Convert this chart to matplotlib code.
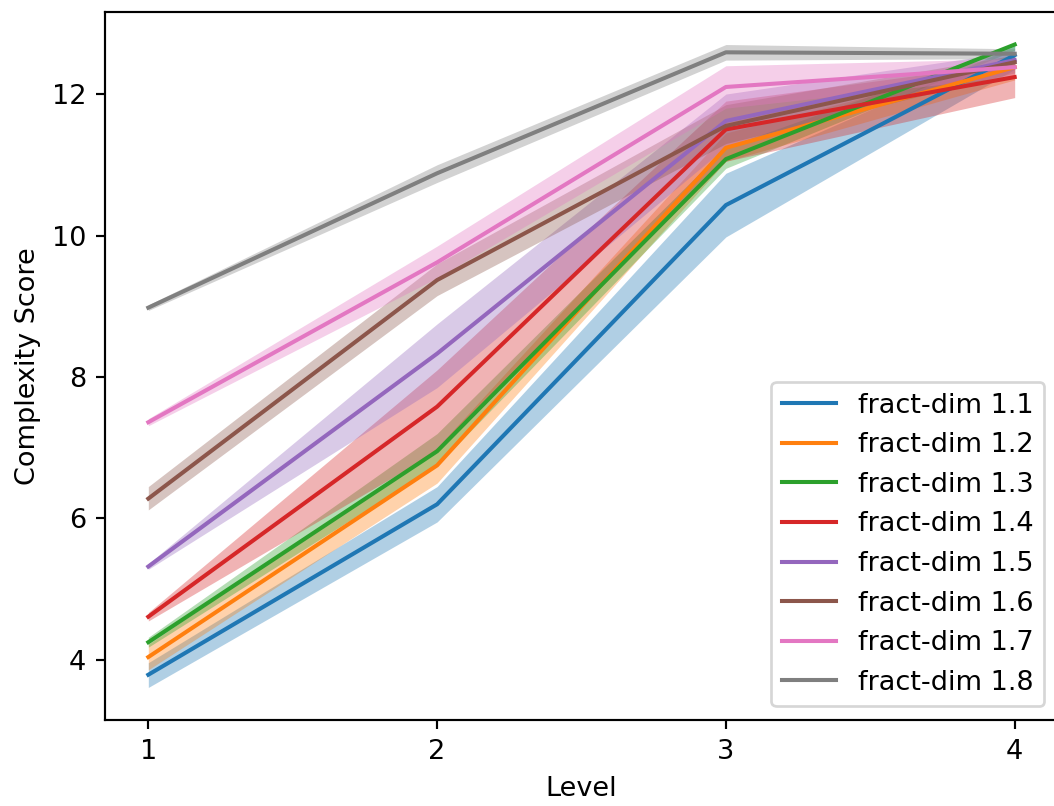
import numpy as np
import matplotlib
matplotlib.use("Agg")
from matplotlib import pyplot as plt

levels = [1, 2, 3, 4]
names = ["fract-dim 1.1", "fract-dim 1.2", "fract-dim 1.3", "fract-dim 1.4",
         "fract-dim 1.5", "fract-dim 1.6", "fract-dim 1.7", "fract-dim 1.8"]

# mean score per level
mean_11 = [3.79, 6.20, 10.43, 12.55]
mean_12 = [4.04, 6.75, 11.24, 12.38]
mean_13 = [4.25, 6.95, 11.08, 12.70]
mean_14 = [4.61, 7.58, 11.50, 12.24]
mean_15 = [5.32, 8.33, 11.62, 12.48]
mean_16 = [6.28, 9.37, 11.55, 12.45]
mean_17 = [7.36, 9.62, 12.10, 12.38]
mean_18 = [8.98, 10.88, 12.59, 12.57]

# confidence band, lower / upper
low_11 = [3.61, 5.95, 9.98, 12.35]
high_11 = [3.96, 6.45, 10.88, 12.68]
low_12 = [3.86, 6.50, 11.05, 12.20]
high_12 = [4.22, 7.00, 11.45, 12.50]
low_13 = [4.18, 6.75, 10.95, 12.62]
high_13 = [4.32, 7.20, 11.25, 12.70]
low_14 = [4.55, 6.95, 11.05, 11.95]
high_14 = [4.67, 8.10, 11.90, 12.45]
low_15 = [5.28, 7.85, 11.25, 12.35]
high_15 = [5.36, 8.75, 12.00, 12.60]
low_16 = [6.12, 9.15, 11.30, 12.30]
high_16 = [6.45, 9.60, 11.85, 12.55]
low_17 = [7.31, 9.40, 11.80, 12.25]
high_17 = [7.41, 9.85, 12.40, 12.50]
low_18 = [8.94, 10.75, 12.48, 12.50]
high_18 = [9.02, 11.00, 12.70, 12.64]

means = [mean_11, mean_12, mean_13, mean_14, mean_15, mean_16, mean_17, mean_18]
lows = [low_11, low_12, low_13, low_14, low_15, low_16, low_17, low_18]
highs = [high_11, high_12, high_13, high_14, high_15, high_16, high_17, high_18]

dpi = 195
fig = plt.figure(figsize=(1054 / dpi, 806 / dpi), dpi=dpi)
ax = fig.add_axes([105 / 1054, 1 - 720 / 806, (1058 - 105) / 1054, (720 - 12) / 806])

for i, name in enumerate(names):
	col = "C%d" % i
	ax.fill_between(levels, lows[i], highs[i], color=col, alpha=0.35, linewidth=0)
	ax.plot(levels, means[i], color=col, label=name)

ax.set_xlim(0.85, 4.15)
ax.set_ylim(3.15, 13.16)
ax.set_xticks(levels)
ax.set_xlabel("Level")
ax.set_ylabel("Complexity Score")
ax.legend(loc="lower right")

fig.savefig("out.png", dpi=dpi)
print("Done")
